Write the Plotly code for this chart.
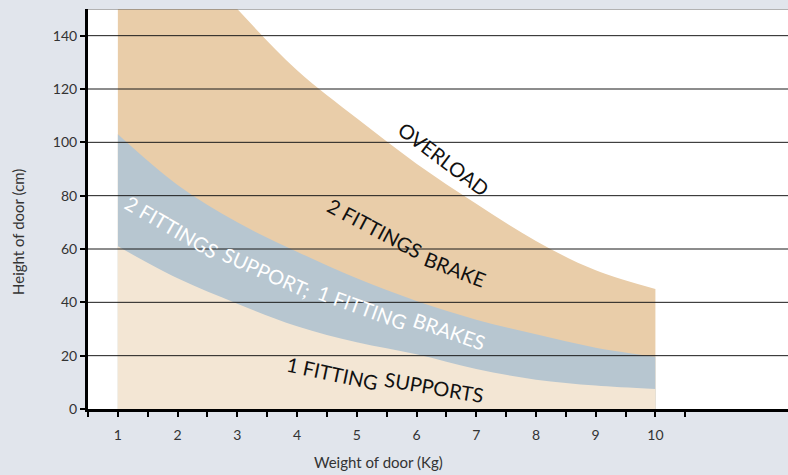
import plotly.graph_objects as go

# ---- data ----
weights = [1, 2, 3, 4, 5, 6, 7, 8, 9, 10]
overload_limit = [200, 175, 150, 127, 109, 92, 77, 63, 52, 45]
brake_limit = [103, 84, 70, 59, 49, 40.5, 33.5, 28, 23, 19.6]
support_limit = [61, 49, 39.5, 31, 25, 20.5, 15, 11, 8.8, 7.5]

x_tickvals = [0.5 + 0.5 * i for i in range(21)]
x_ticktext = [str(int(v)) if v == int(v) and v >= 1 else "" for v in x_tickvals]
y_tickvals = [0, 20, 40, 60, 80, 100, 120, 140]

TAN = "#E9CDA9"
BLUE = "#B7C6D0"
BEIGE = "#F3E6D4"
PAPER = "#E1E5EC"
FONT = "Lato"

fig = go.Figure()
for vals, col in [(overload_limit, TAN), (brake_limit, BLUE), (support_limit, BEIGE)]:
    fig.add_trace(go.Scatter(
        x=weights, y=vals, mode="lines", fill="tozeroy",
        fillcolor=col, line=dict(color=col, width=0, shape="spline", smoothing=1.0),
        hoverinfo="skip", showlegend=False))

# gridlines on top of fills
shapes = []
for v in y_tickvals[1:]:
    shapes.append(dict(type="line", xref="paper", yref="y", x0=0, x1=1, y0=v, y1=v,
                       line=dict(color="#1a1a1a", width=1), layer="above"))
shapes.append(dict(type="line", xref="paper", yref="y", x0=0, x1=1, y0=150, y1=150,
                   line=dict(color="#666666", width=1), layer="above"))

labels = [
    ("OVERLOAD", 6.46, 93.6, 37, "#111111"),
    ("2 FITTINGS", 5.30, 67.8, 28, "#111111"),
    ("BRAKE", 6.65, 52.4, 21, "#111111"),
    ("2 FITTINGS", 1.91, 68.3, 30, "#FFFFFF"),
    ("SUPPORT;", 3.49, 51.4, 24, "#FFFFFF"),
    ("1 FITTING", 5.09, 38.3, 20, "#FFFFFF"),
    ("BRAKES", 6.55, 29.2, 19, "#FFFFFF"),
    ("1 FITTING", 4.59, 13.4, 12, "#111111"),
    ("SUPPORTS", 6.30, 8.1, 9.5, "#111111"),
]
annotations = []
for txt, ax, ay, ang, col in labels:
    annotations.append(dict(text=txt, x=ax, y=ay, xref="x", yref="y", showarrow=False,
                            textangle=ang, font=dict(family=FONT, size=20, color=col)))

annotations.append(dict(text="Height of door (cm)", xref="paper", yref="paper", x=0, y=0.4425,
                        xshift=-70, xanchor="center", yanchor="middle", showarrow=False,
                        textangle=-90, font=dict(family=FONT, size=15, color="#333333")))
annotations.append(dict(text="Weight of door (Kg)", xref="x", yref="paper", x=5.36, y=0,
                        yshift=-53, xanchor="center", yanchor="middle", showarrow=False,
                        font=dict(family=FONT, size=15, color="#333333")))

fig.update_layout(
    width=788, height=475,
    margin=dict(l=88, r=0, t=9, b=66),
    paper_bgcolor=PAPER, plot_bgcolor="white",
    shapes=shapes, annotations=annotations,
    font=dict(family=FONT, color="#333333"),
    xaxis=dict(range=[0.5, 12.22], tickvals=x_tickvals, ticktext=x_ticktext,
               ticks="outside", ticklen=5, tickwidth=2, tickcolor="black",
               showline=True, linecolor="black", linewidth=3, showgrid=False,
               zeroline=False, tickfont=dict(size=14, color="#333333"),
               ticklabelstandoff=6),
    yaxis=dict(range=[0, 150], tickvals=y_tickvals,
               ticks="outside", ticklen=5, tickwidth=2, tickcolor="black",
               showline=True, linecolor="black", linewidth=3, showgrid=False,
               zeroline=False, tickfont=dict(size=14, color="#333333")),
)

fig.write_html("out.html", config={"displayModeBar": False},
               post_script="document.body.style.margin='0';document.body.style.padding='0';")
